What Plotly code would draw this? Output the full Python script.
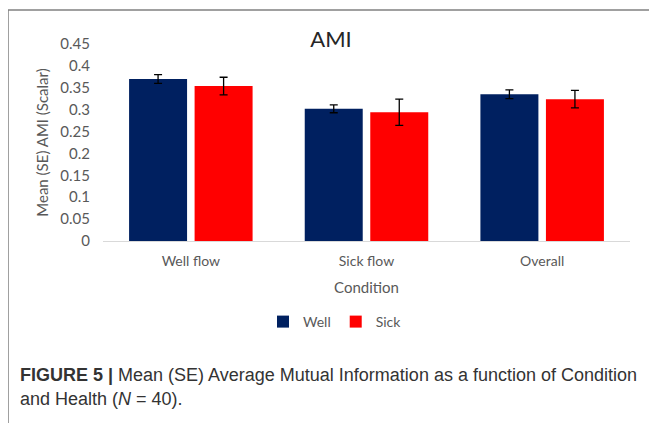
import plotly.graph_objects as go

# AMI by condition and health
conditions = ["Well flow", "Sick flow", "Overall"]
well_mean = [0.370, 0.302, 0.335]
well_se = [0.010, 0.009, 0.010]
sick_mean = [0.354, 0.294, 0.324]
sick_se = [0.020, 0.030, 0.020]
y_ticks = [0, 0.05, 0.1, 0.15, 0.2, 0.25, 0.3, 0.35, 0.4, 0.45]
y_labels = ["0", "0.05", "0.1", "0.15", "0.2", "0.25", "0.3", "0.35", "0.4", "0.45"]

NAVY = "#002060"
RED = "#ff0000"
INK = "#595959"
FONT = "Lato, 'Open Sans', sans-serif"
CAP = "'Liberation Sans Narrow', 'Liberation Sans', Arial, sans-serif"

# the page body adds an 8px margin, so work in window pixels minus 8
OFF = 8
W, H = 657 - OFF, 423 - OFF
L, R, T, B = 103 - OFF, 630 - OFF, 44 - OFF, 241 - OFF


def px(x):
    return (x - OFF - L) / (R - L)


def py(y):
    return (B - (y - OFF)) / (B - T)


fig = go.Figure()
fig.add_trace(go.Bar(
    name="Well", x=conditions, y=well_mean, marker=dict(color=NAVY, line=dict(width=0)),
    error_y=dict(type="data", array=well_se, color="black", thickness=1.3, width=4),
))
fig.add_trace(go.Bar(
    name="Sick", x=conditions, y=sick_mean, marker=dict(color=RED, line=dict(width=0)),
    error_y=dict(type="data", array=sick_se, color="black", thickness=1.3, width=4),
))

fig.update_layout(
    width=W, height=H,
    margin=dict(l=L, r=W - R, t=T, b=H - B, autoexpand=False),
    paper_bgcolor="white", plot_bgcolor="white",
    barmode="group", bargap=0.254, bargroupgap=0.115,
    font=dict(family=FONT, size=14, color=INK),
    title=dict(text="AMI", x=px(331), xref="paper", xanchor="center",
               y=1 - (39 - OFF) / H, yanchor="middle",
               font=dict(family=FONT, size=22, color="#262626")),
    showlegend=True,
    legend=dict(orientation="h", x=px(335), xanchor="center", y=py(322),
                yanchor="middle", font=dict(family=FONT, size=14, color=INK),
                itemwidth=30, tracegroupgap=0, bgcolor="rgba(0,0,0,0)"),
)
fig.update_xaxes(showgrid=False, showline=True, linecolor="#d9d9d9", linewidth=1,
                 ticks="", tickfont=dict(family=FONT, size=14, color=INK),
                 ticklabelstandoff=7,
                 title=dict(text="Condition", font=dict(family=FONT, size=15, color=INK),
                            standoff=14))
fig.update_yaxes(range=[0, 0.45], tickvals=y_ticks, ticktext=y_labels,
                 showgrid=False, zeroline=False, showline=False, ticks="",
                 tickfont=dict(family=FONT, size=15, color=INK),
                 ticklabelstandoff=12,
                 title=dict(text="Mean (SE) AMI (Scalar)",
                            font=dict(family=FONT, size=15, color=INK), standoff=8))

# figure frame: left and top rules
fig.add_shape(type="line", xref="paper", yref="paper", x0=px(8), x1=px(660),
              y0=py(10), y1=py(10), line=dict(color="#808080", width=1.5))
fig.add_shape(type="line", xref="paper", yref="paper", x0=px(8), x1=px(8),
              y0=py(10), y1=py(430), line=dict(color="#808080", width=1.5))

# caption
fig.add_annotation(text="<b>FIGURE 5 |</b> Mean (SE) Average Mutual Information as a function of Condition",
                   xref="paper", yref="paper", x=px(18), y=py(375), xanchor="left",
                   yanchor="middle", showarrow=False, align="left",
                   font=dict(family=CAP, size=18, color="#333333"))
fig.add_annotation(text="and Health (<i>N</i> = 40).",
                   xref="paper", yref="paper", x=px(18), y=py(399), xanchor="left",
                   yanchor="middle", showarrow=False, align="left",
                   font=dict(family=CAP, size=18, color="#333333"))

fig.write_html("out.html")
